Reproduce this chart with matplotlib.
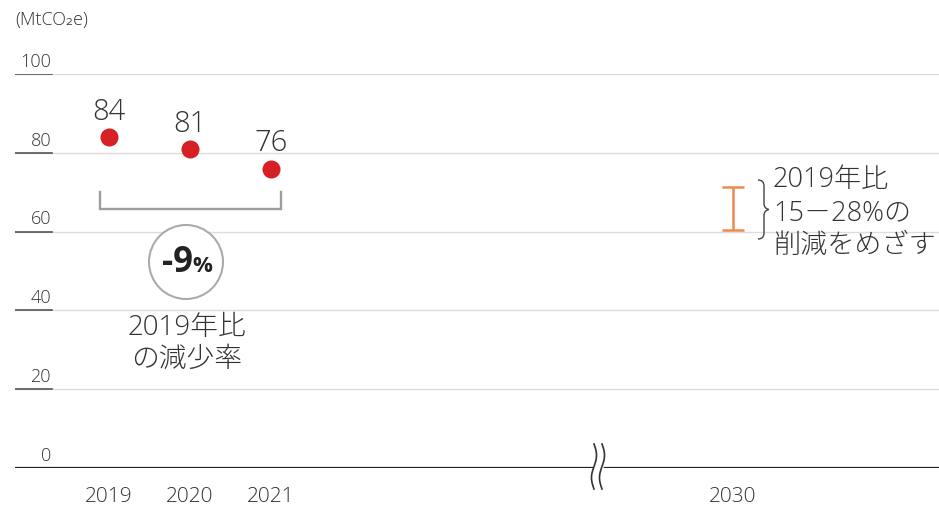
import numpy as np
import matplotlib
matplotlib.use("Agg")
import matplotlib.pyplot as plt
from matplotlib.lines import Line2D
from matplotlib.patches import Circle, PathPatch
from matplotlib.path import Path

plt.rcParams['font.family'] = ['Open Sans', 'Noto Sans CJK JP', 'DejaVu Sans']

# data
years = ['2019', '2020', '2021', '2030']
xpos = [0, 1, 2, 7.7]
values = [84, 81, 76]
yticks = [0, 20, 40, 60, 80, 100]
change_label = '-9'       # % change 2019 -> 2021
target_cut = [15, 28]     # % reduction vs 2019
unit = '(MtCO\u2082e)'

W, H = 939, 506
fig = plt.figure(figsize=(W / 100, H / 100), dpi=100)

def px(x, y):
    return (x / W, 1 - y / H)

# axes placed so that y=0 -> px 469, y=100 -> px 75
ax = fig.add_axes([15 / W, (H - 469) / H, 1 - 15 / W, (469 - 75) / H])
ax.set_xlim((15 - 109) / 81, (939 - 109) / 81)
ax.set_ylim(0, 100)
ax.axis('off')

TXT = '#333333'
LW = 'light'

# grid + tick labels
for t in yticks:
    if t == 0:
        ax.axhline(0, color='#222222', lw=1.6, zorder=2)
    else:
        ax.axhline(t, color='#dcdcdc', lw=1.0, zorder=1)
        ax.plot([(15 - 109) / 81, (52 - 109) / 81], [t, t], color='#555555', lw=1.2, zorder=2)
    ax.annotate(str(t), (((51 - 109) / 81), t), xytext=(0, 3), textcoords='offset points',
                ha='right', va='bottom', fontsize=13, color=TXT, fontweight=LW)

# x labels
for x, lab in zip(xpos, years):
    ax.annotate(lab, (x, 0), xytext=(0, -20.5), textcoords='offset points',
                ha='center', va='center', fontsize=15, color=TXT, fontweight=LW,
                annotation_clip=False)

# points
ax.plot(xpos[:3], values, 'o', color='#d71f26', ms=13, mec='none', zorder=5)
for x, v in zip(xpos[:3], values):
    ax.annotate(str(v), (x, v), xytext=(0, 8), textcoords='offset points',
                ha='center', va='bottom', fontsize=21, color=TXT, fontweight=LW)

# target range bar 2030
lo = values[0] * (1 - target_cut[1] / 100)
hi = values[0] * (1 - target_cut[0] / 100)
ax.errorbar([xpos[3]], [(lo + hi) / 2], yerr=[[(hi - lo) / 2], [(hi - lo) / 2]],
            fmt='none', ecolor='#ee8a4f', elinewidth=1.8, capsize=8, capthick=1.8)

# bracket under 2019-2021
fig.add_artist(Line2D([100 / W, 100 / W, 281 / W, 281 / W],
                      [1 - 193 / H, 1 - 210 / H, 1 - 210 / H, 1 - 193 / H],
                      color='#9d9d9d', lw=1.7, solid_joinstyle='miter'))

# -9% circle
cx, cy = px(186, 263)
circ = Circle((186, H - 263), 37, transform=None, fill=True, fc='white',
              ec='#ababab', lw=1.5)
fig.add_artist(circ)
fig.text(cx + 0.007, cy, change_label, ha='right', va='center', fontsize=25,
         fontweight='bold', color='#222222')
fig.text(cx + 0.007, cy - 0.006, '%', ha='left', va='center', fontsize=16,
         fontweight='bold', color='#222222')
fig.text(*px(187, 344), '2019年比\nの減少率', ha='center', va='center', fontsize=20,
         color=TXT, fontweight=LW, linespacing=1.15)

# right annotation
fig.text(*px(773, 213), f'2019年比\n{target_cut[0]}－{target_cut[1]}%の\n削減をめざす',
         ha='left', va='center', fontsize=19.5, color=TXT, fontweight=LW, linespacing=1.25)

# curly brace
bx, top, bot = 758, 181, 240
mid = (top + bot) / 2
verts = [(bx, top), (bx + 6, top), (bx + 6, top + 6), (bx + 6, mid - 6),
         (bx + 6, mid - 1), (bx + 11, mid), (bx + 11, mid),
         (bx + 11, mid), (bx + 6, mid + 1), (bx + 6, mid + 6),
         (bx + 6, bot - 6), (bx + 6, bot), (bx, bot)]
verts = [(x, H - y) for x, y in verts]
codes = [Path.MOVETO, Path.CURVE3, Path.CURVE3, Path.LINETO,
         Path.CURVE3, Path.CURVE3, Path.MOVETO,
         Path.MOVETO, Path.CURVE3, Path.CURVE3,
         Path.LINETO, Path.CURVE3, Path.CURVE3]
fig.add_artist(PathPatch(Path(verts, codes), transform=None, fill=False,
                         ec='#444444', lw=1.0))

# axis break
yy = np.linspace(445, 490, 60)
fig.add_artist(Line2D([595.5 / W, 600.5 / W], [1 - 469 / H, 1 - 469 / H],
                      color='white', lw=4))
for bxp in (594, 602):
    xx = bxp + 2.5 * np.sin((yy - 445) / 45 * 2 * np.pi)
    fig.add_artist(Line2D(xx / W, 1 - yy / H, color='#333333', lw=1.2))

fig.text(*px(15, 20), unit, ha='left', va='center', fontsize=13, color=TXT,
         fontweight=LW)

fig.savefig('out.png', dpi=100, facecolor='white')
